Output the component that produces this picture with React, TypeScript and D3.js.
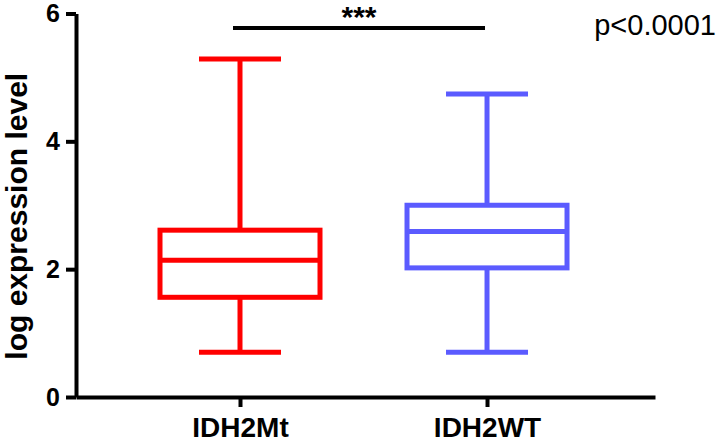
import * as d3 from 'd3';
import React, { useEffect, useRef } from 'react';

// box plot: IDH2 mutant vs wild type expression
const groups = ['IDH2Mt', 'IDH2WT'];
const colors = ['#ff0000', '#5b5bff'];
const mins = [0.70, 0.70];
const q1s = [1.56, 2.02];
const medians = [2.14, 2.59];
const q3s = [2.61, 3.00];
const maxs = [5.29, 4.74];
const yTicks = [0, 2, 4, 6];
const yTitle = 'log expression level';
const sigLabel = '***';
const pLabel = 'p<0.0001';

const W = 719;
const H = 446;
const font = '"Liberation Sans", Arial, sans-serif';

const y = d3.scaleLinear().domain([0, 6]).range([397, 13.5]);
const x = d3.scalePoint<string>().domain(groups).range([76, 655]).padding(0.672).align(0.494);

const App = () => {
  const ref = useRef<SVGSVGElement>(null);

  useEffect(() => {
    const svg = d3.select(ref.current);
    svg.selectAll('*').remove();

    const boxes = groups.map((g, i) => ({
      g, color: colors[i], min: mins[i], q1: q1s[i], med: medians[i], q3: q3s[i], max: maxs[i],
    }));
    const halfBox = 80;
    const halfCap = 41;

    const gb = svg.append('g').attr('fill', 'none').attr('stroke-width', 5);
    boxes.forEach(b => {
      const cx = x(b.g)!;
      const s = gb.append('g').attr('stroke', b.color);
      // whiskers
      s.append('line').attr('x1', cx).attr('x2', cx).attr('y1', y(b.q3)).attr('y2', y(b.max));
      s.append('line').attr('x1', cx).attr('x2', cx).attr('y1', y(b.q1)).attr('y2', y(b.min));
      s.append('line').attr('x1', cx - halfCap).attr('x2', cx + halfCap).attr('y1', y(b.max)).attr('y2', y(b.max));
      s.append('line').attr('x1', cx - halfCap).attr('x2', cx + halfCap).attr('y1', y(b.min)).attr('y2', y(b.min));
      // box + median
      s.append('rect')
        .attr('x', cx - halfBox).attr('width', halfBox * 2)
        .attr('y', y(b.q3)).attr('height', y(b.q1) - y(b.q3));
      s.append('line').attr('x1', cx - halfBox).attr('x2', cx + halfBox).attr('y1', y(b.med)).attr('y2', y(b.med));
    });

    // axes
    const ya = svg.append('g')
      .attr('transform', `translate(${x.range()[0]},0)`)
      .call(d3.axisLeft(y).tickValues(yTicks).tickSize(10).tickSizeOuter(0).tickPadding(6).tickFormat(d3.format('d')));
    const xa = svg.append('g')
      .attr('transform', `translate(0,${y(0)})`)
      .call(d3.axisBottom(x).tickSize(10).tickSizeOuter(0).tickPadding(10));
    [ya, xa].forEach(a => {
      a.selectAll('path, line').attr('stroke', '#000').attr('stroke-width', 4);
      a.selectAll('text').attr('fill', '#000').attr('font-family', font).attr('font-weight', 'bold');
    });
    ya.selectAll('text').attr('font-size', 25);
    xa.selectAll('text').attr('font-size', 28).attr('dy', null).attr('y', 40);

    svg.append('text')
      .attr('transform', `translate(27,${(y(0) + y(6)) / 2 + 11}) rotate(-90)`)
      .attr('text-anchor', 'middle')
      .attr('font-family', font).attr('font-weight', 'bold').attr('font-size', 30)
      .text(yTitle);

    // significance bar
    const x1 = x(groups[0])! - 7;
    const x2 = x(groups[1])! - 2;
    svg.append('line')
      .attr('x1', x1).attr('x2', x2).attr('y1', 28).attr('y2', 28)
      .attr('stroke', '#000').attr('stroke-width', 4);
    svg.append('text')
      .attr('x', (x1 + x2) / 2).attr('y', 27)
      .attr('text-anchor', 'middle')
      .attr('font-family', font).attr('font-weight', 'bold').attr('font-size', 30)
      .text(sigLabel);

    svg.append('text')
      .attr('x', 716).attr('y', 35)
      .attr('text-anchor', 'end')
      .attr('font-family', font).attr('font-size', 29)
      .text(pLabel);
  }, []);

  return (
    <svg ref={ref} width={W} height={H}
      style={{ position: 'absolute', left: 0, top: 0, background: '#fff' }} />
  );
};

export default App;
